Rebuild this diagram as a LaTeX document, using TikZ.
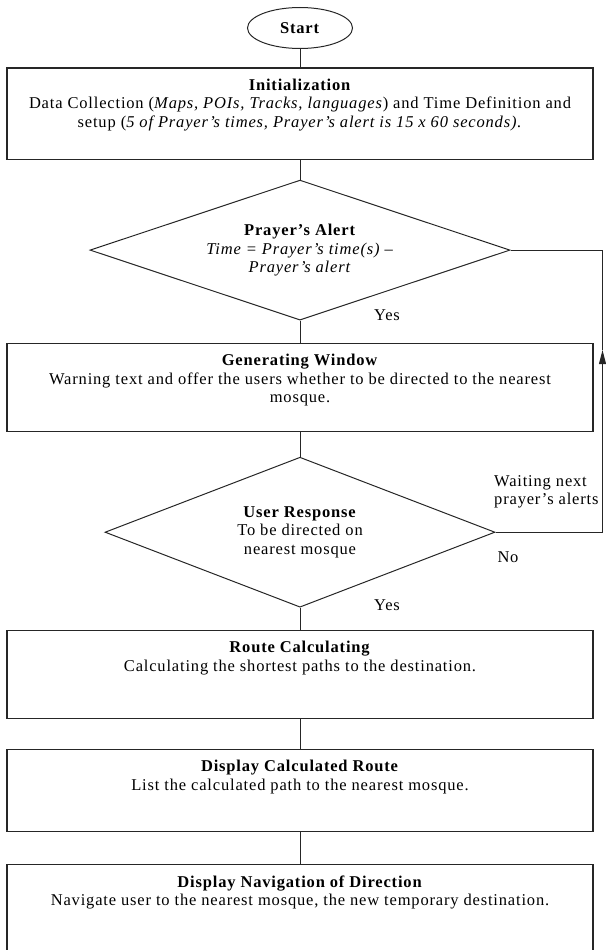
\documentclass[tikz,border=0pt]{standalone}
\usepackage{fontspec}
\setmainfont{Liberation Serif}[LetterSpace=5]
\usetikzlibrary{positioning,arrows.meta,shapes.geometric}

\newcommand{\steptext}[2]{\parbox[c][#1][t]{580pt}{\centering\vspace{11pt}#2}}

\begin{document}
\begin{tikzpicture}[x=1pt,y=1pt,
  font=\fontsize{16.5}{18.5}\selectfont,
  stepbox/.style={draw=black!85, line width=1.1pt, minimum width=586pt, inner sep=0pt},
  decision/.style={draw=black!85, line width=1pt, diamond, aspect=3, inner sep=0pt, align=center},
  startnode/.style={draw=black!85, line width=1pt, ellipse, minimum width=105pt, minimum height=41pt, inner sep=0pt},
  link/.style={line width=1pt, draw=black!85},
  lbl/.style={inner sep=0pt}]
\useasboundingbox (0,0) rectangle (605,-950);
\node[startnode] (start) at (300,-28) {\textbf{Start}};
\node[stepbox] (init) [below=18.5pt of start] {\steptext{91pt}{\textbf{Initialization}\\
  Data Collection (\textit{Maps, POIs, Tracks, languages}) and Time Definition and\\
  setup (\textit{5 of Prayer’s times, Prayer’s alert is 15 x 60 seconds).}}};
\node[decision, minimum width=420pt, minimum height=140pt] (alert) [below=20pt of init]
  {\textbf{Prayer’s Alert}\\ \textit{Time = Prayer’s time(s) –}\\ \textit{Prayer’s alert}};
\node[stepbox] (window) [below=22pt of alert] {\steptext{88pt}{\textbf{Generating Window}\\
  Warning text and offer the users whether to be directed to the nearest\\ mosque.}};
\node[decision, minimum width=390pt, minimum height=150pt] (response) [below=25pt of window]
  {\textbf{User Response}\\ To be directed on\\ nearest mosque};
\node[stepbox] (route) [below=22pt of response] {\steptext{88pt}{\textbf{Route Calculating}\\
  Calculating the shortest paths to the destination.}};
\node[stepbox] (display) [below=30pt of route] {\steptext{82pt}{\textbf{Display Calculated Route}\\
  List the calculated path to the nearest mosque.}};
\node[stepbox] (navigate) [below=32pt of display] {\steptext{92pt}{\textbf{Display Navigation of Direction}\\
  Navigate user to the nearest mosque, the new temporary destination.}};
\node[lbl] (yesA) at (387,-315) {Yes};
\node[lbl, anchor=west, align=left] (waiting) at (494,-492) {Waiting next\\ prayer’s alerts};
\node[lbl] (no) at (508,-557) {No};
\node[lbl] (yesB) at (387,-605) {Yes};
\path (alert.east) ++(92,0) coordinate (looptop);
\coordinate (loopbot) at (looptop |- response.east);
\path (looptop) ++(0,-100) coordinate (loopmid);
\draw[link] (start) -- (init);
\draw[link] (init) -- (alert);
\draw[link] (alert) -- (window);
\draw[link] (window) -- (response);
\draw[link] (response) -- (route);
\draw[link] (route) -- (display);
\draw[link] (display) -- (navigate);
\draw[link, -{Triangle[length=14pt,width=7pt]}] (response.east) -- (loopbot) -- (loopmid);
\draw[link] (loopmid) -- (looptop) -- (alert.east);
\end{tikzpicture}
\end{document}
